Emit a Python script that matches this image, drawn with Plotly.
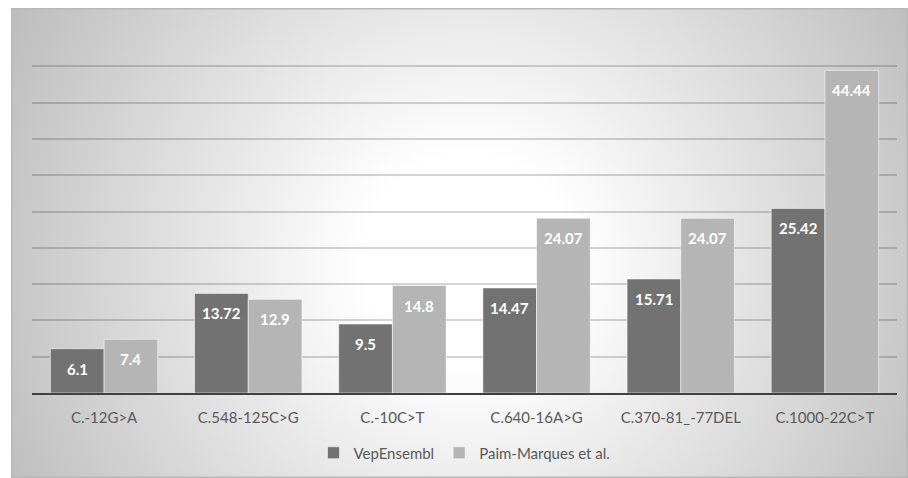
import base64
import plotly.graph_objects as go

categories = ["C.-12G>A", "C.548-125C>G", "C.-10C>T", "C.640-16A>G", "C.370-81_-77DEL", "C.1000-22C>T"]
vep_values = [6.1, 13.72, 9.5, 14.47, 15.71, 25.42]
paim_values = [7.4, 12.9, 14.8, 24.07, 24.07, 44.44]
series_names = ["VepEnsembl", "Paim-Marques et al."]
series_colors = ["#727272", "#b5b5b5"]

W, H = 908, 478
ML, MR, MT, MB = 32, 11, 30, 85
PW, PH = W - ML - MR, H - MT - MB
BARGAP = 0.255

# background box with radial gradient (Office style)
box_l, box_t, box_r, box_b = 11, 8, 908, 478
bw, bh = box_r - box_l, box_b - box_t
svg = (
    f"<svg xmlns='http://www.w3.org/2000/svg' width='{bw}' height='{bh}' viewBox='0 0 {bw} {bh}' preserveAspectRatio='none'>"
    "<defs><radialGradient id='g' gradientUnits='userSpaceOnUse' cx='457' cy='252' r='700'>"
    "<stop offset='0.15' stop-color='#ffffff'/><stop offset='1' stop-color='#a0a0a0'/>"
    "</radialGradient></defs>"
    f"<rect x='0.75' y='0.75' width='{bw-1.5}' height='{bh-1.5}' fill='url(#g)' stroke='#b8b8b8' stroke-width='1.5'/>"
    "</svg>"
)
src = "data:image/svg+xml;base64," + base64.b64encode(svg.encode()).decode()

fig = go.Figure()
for name, vals, col in zip(series_names, [vep_values, paim_values], series_colors):
    fig.add_trace(go.Bar(
        x=categories, y=vals, name=name,
        marker=dict(color=col, line=dict(color="rgba(255,255,255,0.55)", width=1)),
        hoverinfo="x+y",
    ))

annotations = []
half = (1 - BARGAP) / 2
for j, vals in enumerate([vep_values, paim_values]):
    for i, v in enumerate(vals):
        annotations.append(dict(
            x=i + (j - 0.5) * half, y=v, xref="x", yref="y",
            text=f"{v:g}", showarrow=False, yshift=-20, yanchor="middle",
            font=dict(family="Lato", size=15, color="white", weight="bold"),
        ))

fig.update_layout(
    width=W, height=H,
    margin=dict(l=ML, r=MR, t=MT, b=MB, autoexpand=False),
    paper_bgcolor="white", plot_bgcolor="rgba(0,0,0,0)",
    barmode="group", bargap=BARGAP, bargroupgap=0,
    font=dict(family="Lato", size=15, color="#595959"),
    images=[dict(
        source=src, xref="paper", yref="paper",
        x=(box_l - ML) / PW, y=(H - MB - box_t) / PH,
        sizex=bw / PW, sizey=bh / PH,
        xanchor="left", yanchor="top", sizing="stretch", layer="below",
    )],
    xaxis=dict(
        showgrid=False, showline=True, linecolor="#404040", linewidth=2,
        ticks="", ticklabelstandoff=10,
        tickfont=dict(family="Lato", size=15, color="#595959"),
    ),
    yaxis=dict(
        range=[0, 50], dtick=5, showgrid=True,
        gridcolor="rgba(0,0,0,0.17)", gridwidth=1.5,
        showticklabels=False, zeroline=False, showline=False,
    ),
    legend=dict(
        orientation="h", x=0.5, xanchor="center",
        y=(H - MB - 453) / PH, yanchor="middle",
        bgcolor="rgba(0,0,0,0)",
        font=dict(family="Lato", size=15, color="#595959"),
    ),
    annotations=annotations,
    showlegend=True,
)

fig.write_html("out.html")
